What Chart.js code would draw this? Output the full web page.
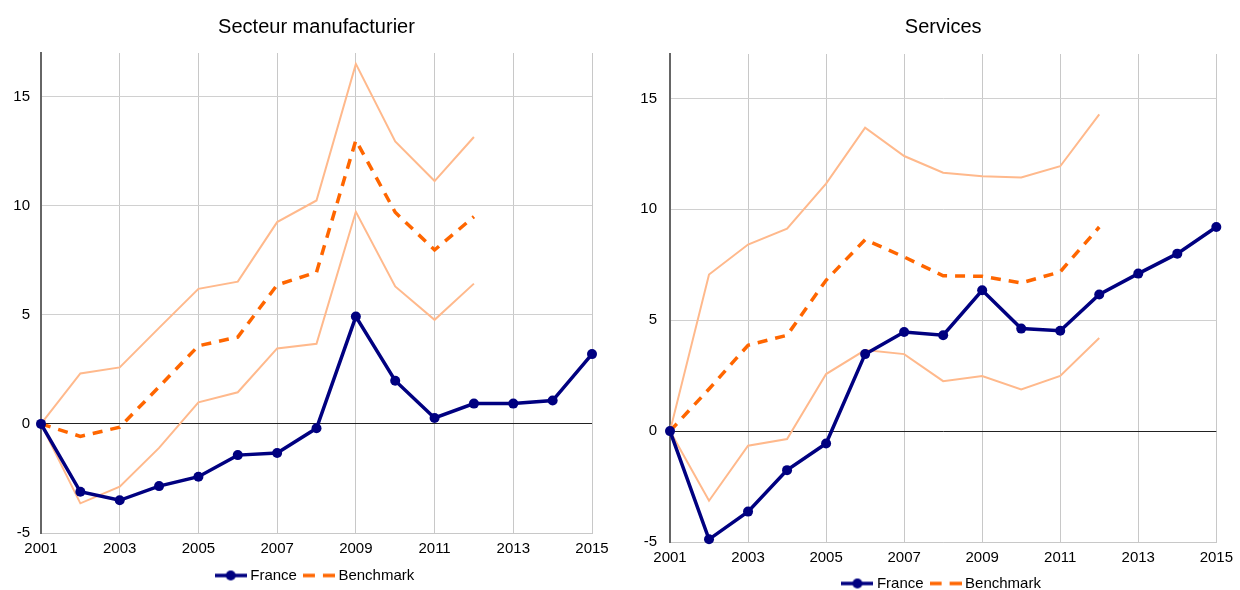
<!DOCTYPE html>
<html>
<head>
<meta charset="utf-8">
<script src="https://cdn.jsdelivr.net/npm/chart.js@4.4.1/dist/chart.umd.min.js"></script>
<style>
  html, body { margin: 0; padding: 0; background: #fff; overflow: hidden; }
  .panel { position: absolute; top: 0; width: 620px; height: 620px; }
  #left { left: 0; }
  #right { left: 620px; }
</style>
</head>
<body>
<div class="panel" id="left"><canvas id="manufChart"></canvas></div>
<div class="panel" id="right"><canvas id="servChart"></canvas></div>
<script>
// years on the x axis and the labelled ones
const years = [2001, 2002, 2003, 2004, 2005, 2006, 2007, 2008, 2009, 2010, 2011, 2012, 2013, 2014, 2015];
const xTicks = [2001, 2003, 2005, 2007, 2009, 2011, 2013, 2015];
const yTicks = [-5, 0, 5, 10, 15];

// Secteur manufacturier
const manufFrance = [0, -3.11, -3.5, -2.85, -2.42, -1.43, -1.33, -0.2, 4.92, 1.98, 0.27, 0.93, 0.93, 1.07, 3.2];
const manufBenchmark = [0, -0.57, -0.15, 1.7, 3.58, 3.98, 6.37, 6.95, 13.0, 9.7, 7.97, 9.5];
const manufHigh = [0, 2.31, 2.59, 4.4, 6.19, 6.52, 9.25, 10.24, 16.5, 12.95, 11.13, 13.15];
const manufLow = [0, -3.64, -2.88, -1.1, 0.99, 1.45, 3.46, 3.67, 9.72, 6.3, 4.77, 6.43];

// Services
const servFrance = [0, -4.88, -3.63, -1.76, -0.56, 3.47, 4.47, 4.32, 6.35, 4.62, 4.52, 6.16, 7.1, 8.0, 9.2];
const servBenchmark = [0, 1.9, 3.87, 4.32, 6.8, 8.63, 7.85, 7.0, 6.98, 6.68, 7.18, 9.2];
const servHigh = [0, 7.06, 8.41, 9.13, 11.16, 13.68, 12.4, 11.65, 11.49, 11.43, 11.94, 14.28];
const servLow = [0, -3.14, -0.66, -0.36, 2.57, 3.65, 3.47, 2.25, 2.48, 1.88, 2.49, 4.2];

const FONT = "'Liberation Sans', Arial, sans-serif";
const NAVY = "#000080";
const ORANGE = "#ff6600";
const PEACH = "#ffb98c";

const toPoints = (arr) => arr.map((v, i) => ({ x: years[i], y: v }));

// small pictures for the legend: line with dot, dashed line
function legendMark(color, dashed, dot) {
  const c = document.createElement("canvas");
  c.width = 32;
  c.height = 12;
  const g = c.getContext("2d");
  g.strokeStyle = color;
  g.lineWidth = 3.5;
  if (dashed) g.setLineDash([12, 8]);
  g.beginPath();
  g.moveTo(0, 6);
  g.lineTo(32, 6);
  g.stroke();
  if (dot) {
    g.fillStyle = color;
    g.beginPath();
    g.arc(16, 6, 5, 0, Math.PI * 2);
    g.fill();
  }
  return c;
}
const franceMark = legendMark(NAVY, false, true);
const benchMark = legendMark(ORANGE, true, false);

function makeChart(id, title, france, bench, high, low, opts) {
  new Chart(document.getElementById(id), {
    type: "line",
    data: {
      datasets: [
        {
          label: "France",
          data: toPoints(france),
          borderColor: NAVY,
          backgroundColor: NAVY,
          borderWidth: 3.5,
          pointRadius: 5,
          pointBorderWidth: 0,
          clip: false,
          order: 0,
        },
        {
          label: "Benchmark",
          data: toPoints(bench),
          borderColor: ORANGE,
          borderWidth: 3.5,
          borderDash: [10, 8],
          pointRadius: 0,
          order: 1,
        },
        {
          label: "haut",
          data: toPoints(high),
          borderColor: PEACH,
          borderWidth: 2,
          pointRadius: 0,
          order: 2,
        },
        {
          label: "bas",
          data: toPoints(low),
          borderColor: PEACH,
          borderWidth: 2,
          pointRadius: 0,
          order: 2,
        },
      ],
    },
    options: {
      responsive: true,
      maintainAspectRatio: false,
      animation: false,
      events: [],
      layout: { padding: { top: 0, left: 0, right: opts.padRight, bottom: opts.padBottom } },
      scales: {
        x: {
          type: "linear",
          min: 2001,
          max: 2015,
          afterBuildTicks: (scale) => {
            scale.ticks = xTicks.map((v) => ({ value: v }));
          },
          afterFit: (scale) => {
            scale.height = opts.xAxisHeight;
          },
          ticks: {
            callback: (v) => String(v),
            color: "#000",
            font: { family: FONT, size: 15 },
            padding: 7,
            maxRotation: 0,
            autoSkip: false,
          },
          grid: { color: "#c8c8c8", lineWidth: 1, drawTicks: false },
          border: { color: "#c8c8c8", width: 1 },
        },
        y: {
          min: -5,
          max: 17,
          afterBuildTicks: (scale) => {
            scale.ticks = yTicks.map((v) => ({ value: v }));
          },
          afterFit: (scale) => {
            scale.width = opts.yAxisWidth;
          },
          ticks: {
            color: "#000",
            font: { family: FONT, size: 15 },
            padding: opts.yPad,
          },
          grid: {
            color: (ctx) => (ctx.tick && ctx.tick.value === 0 ? "#222" : "#d0d0d0"),
            lineWidth: 1,
            drawTicks: false,
          },
          border: { color: "#666", width: 2 },
        },
      },
      plugins: {
        title: {
          display: true,
          text: title,
          fullSize: false,
          color: "#000",
          font: { family: FONT, size: 20, weight: "normal" },
          padding: { top: 15, bottom: opts.titleBottom },
        },
        legend: {
          position: "bottom",
          fullSize: false,
          labels: {
            color: "#000",
            font: { family: FONT, size: 15 },
            usePointStyle: true,
            pointStyleWidth: 24,
            padding: 10,
            filter: (item) => item.datasetIndex < 2,
            generateLabels: (chart) =>
              Chart.defaults.plugins.legend.labels.generateLabels(chart).map((item) => {
                item.pointStyle = item.datasetIndex === 0 ? franceMark : benchMark;
                return item;
              }),
          },
        },
        tooltip: { enabled: false },
      },
    },
  });
}

makeChart("manufChart", "Secteur manufacturier", manufFrance, manufBenchmark, manufHigh, manufLow, {
  padRight: 28,
  padBottom: 27,
  xAxisHeight: 25,
  yAxisWidth: 41,
  yPad: 11,
  titleBottom: 14,
});

makeChart("servChart", "Services", servFrance, servBenchmark, servHigh, servLow, {
  padRight: 19,
  padBottom: 19,
  xAxisHeight: 24,
  yAxisWidth: 50,
  yPad: 13,
  titleBottom: 15,
});
</script>
</body>
</html>
